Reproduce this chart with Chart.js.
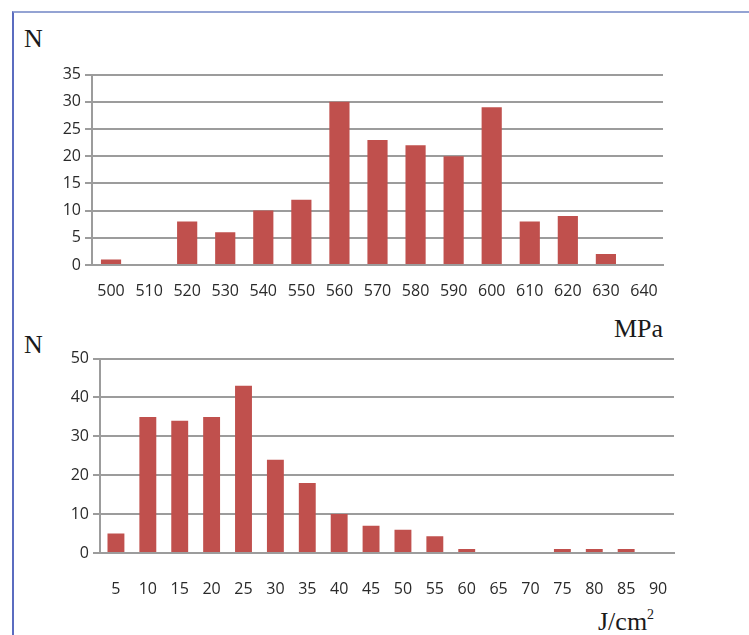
<!DOCTYPE html>
<html>
<head>
<meta charset="utf-8">
<script src="https://cdn.jsdelivr.net/npm/chart.js@4/dist/chart.umd.min.js"></script>
<style>
  html, body { margin: 0; padding: 0; background: #fff; }
  body { width: 749px; height: 635px; position: relative; overflow: hidden; }
  .frame {
    position: absolute; left: 12px; top: 11px; right: -4px; bottom: -4px;
    border-left: 2px solid #5b6cc0; border-top: 2px solid #94a3d3;
  }
  .box { position: absolute; }
  .lbl {
    position: absolute; font-family: "Liberation Serif", "DejaVu Serif", serif;
    font-size: 26px; color: #1a1a1a; line-height: 1; white-space: nowrap;
  }
  .lbl sup { font-size: 14px; vertical-align: top; position: relative; top: -1px; }
</style>
</head>
<body>
<div class="frame"></div>

<div class="lbl" style="left:24px; top:26px;">N</div>
<div class="box" style="left:0; top:61px; width:749px; height:249px;"><canvas id="strength"></canvas></div>
<div class="lbl" style="left:614px; top:316px;">MPa</div>

<div class="lbl" style="left:24px; top:332px;">N</div>
<div class="box" style="left:0; top:345px; width:749px; height:258px;"><canvas id="energy"></canvas></div>
<div class="lbl" style="left:598px; top:609px;">J/cm<sup>2</sup></div>

<script>
// Tensile strength histogram (MPa bins)
const strengthBins = ['500','510','520','530','540','550','560','570','580','590','600','610','620','630','640'];
const strengthCounts = [1, 0, 8, 6, 10, 12, 30, 23, 22, 20, 29, 8, 9, 2, 0];
const strengthTicks = [0, 5, 10, 15, 20, 25, 30, 35];

// Impact energy histogram (J/cm2 bins)
const energyBins = ['5','10','15','20','25','30','35','40','45','50','55','60','65','70','75','80','85','90'];
const energyCounts = [5, 35, 34, 35, 43, 24, 18, 10, 7, 6, 4.3, 1, 0, 0, 1, 1, 1, 0];
const energyTicks = [0, 10, 20, 30, 40, 50];

const BAR = '#c0504d';
const GRID = '#9c9c9c';
const TICK_FONT = { family: '"Open Sans", "Liberation Sans", sans-serif', size: 16 };
const TICK_COLOR = '#2a2a2a';

function histogram(canvasId, bins, counts, ticks, opts) {
  const top = ticks[ticks.length - 1];
  return new Chart(document.getElementById(canvasId), {
    type: 'bar',
    data: {
      labels: bins,
      datasets: [{
        data: counts,
        backgroundColor: BAR,
        borderWidth: 0,
        categoryPercentage: 1,
        barPercentage: 0.53
      }]
    },
    options: {
      responsive: true,
      maintainAspectRatio: false,
      animation: false,
      events: [],
      layout: { padding: { top: 10, right: opts.padRight, left: 0, bottom: 0 } },
      plugins: { legend: { display: false }, tooltip: { enabled: false } },
      scales: {
        x: {
          grid: { display: false, drawTicks: false },
          border: { display: true, color: GRID, width: 2 },
          ticks: { font: TICK_FONT, color: TICK_COLOR, padding: opts.xPad, maxRotation: 0, autoSkip: false },
          afterFit: (s) => { s.height = opts.xHeight; }
        },
        y: {
          min: 0,
          max: top,
          afterBuildTicks: (s) => { s.ticks = ticks.map(v => ({ value: v })); },
          grid: { color: GRID, lineWidth: 2, tickLength: 7, tickColor: GRID },
          border: { display: true, color: GRID, width: 2 },
          ticks: { font: TICK_FONT, color: TICK_COLOR, padding: 4 },
          afterFit: (s) => { s.width = opts.yWidth; }
        }
      }
    }
  });
}

histogram('strength', strengthBins, strengthCounts, strengthTicks,
  { padRight: 86, yWidth: 92, xPad: 17, xHeight: 45 });
histogram('energy', energyBins, energyCounts, energyTicks,
  { padRight: 75, yWidth: 100, xPad: 27, xHeight: 50 });
</script>
</body>
</html>
